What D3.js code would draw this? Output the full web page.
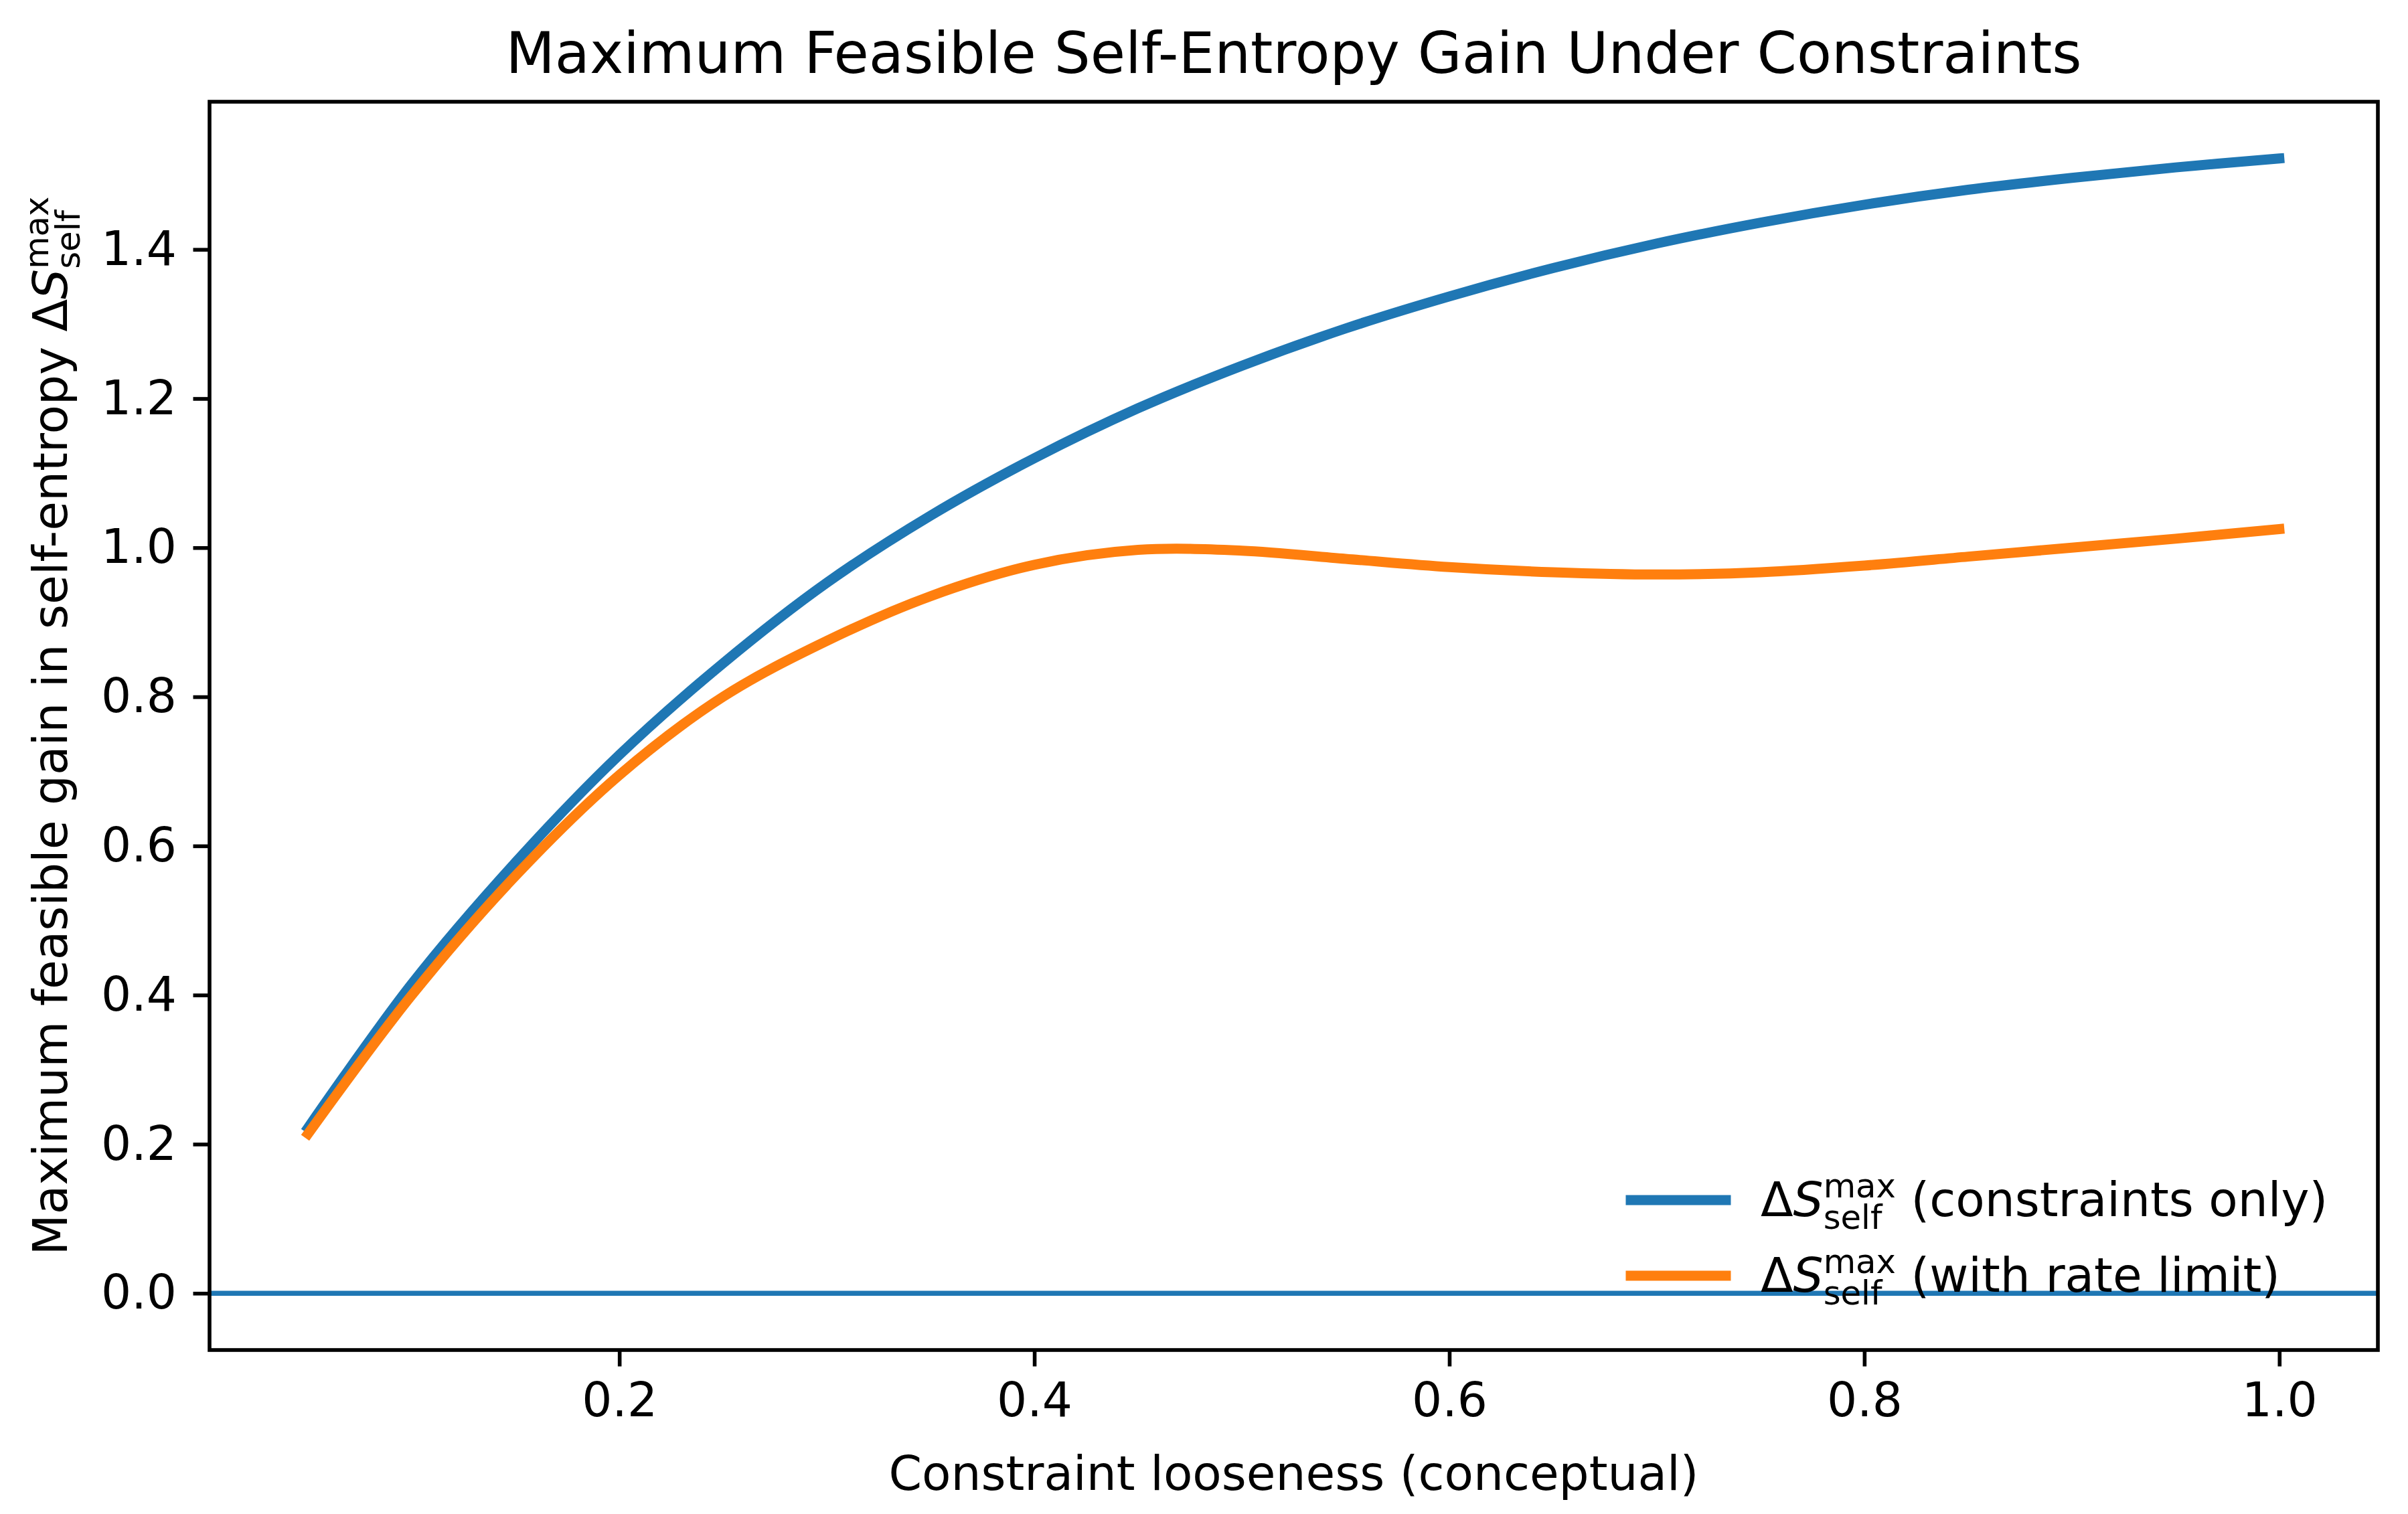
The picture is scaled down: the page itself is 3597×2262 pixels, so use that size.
<!DOCTYPE html>
<html>
<head>
<meta charset="utf-8">
<script src="https://cdn.jsdelivr.net/npm/d3@7"></script>
<style>
  body { margin: 0; background: #fff; }
  svg text { font-family: "DejaVu Sans", sans-serif; fill: #000; }
</style>
</head>
<body>
<svg id="chart" width="3597" height="2262"></svg>
<script>
// values
var looseness = [0.05, 0.10, 0.15, 0.20, 0.25, 0.30, 0.35, 0.40, 0.45, 0.50,
                 0.55, 0.60, 0.65, 0.70, 0.75, 0.80, 0.85, 0.90, 0.95, 1.00];
var constraintsOnly = [0.222, 0.415, 0.578, 0.722, 0.845, 0.953, 1.043, 1.120, 1.187, 1.244,
                       1.294, 1.337, 1.375, 1.408, 1.436, 1.460, 1.480, 1.496, 1.510, 1.522];
var withRateLimit = [0.214, 0.400, 0.560, 0.695, 0.800, 0.875, 0.935, 0.977, 0.997, 0.996,
                     0.985, 0.974, 0.967, 0.964, 0.967, 0.976, 0.988, 1.000, 1.012, 1.025];
var xTicks = [0.2, 0.4, 0.6, 0.8, 1.0];
var yTicks = [0.0, 0.2, 0.4, 0.6, 0.8, 1.0, 1.2, 1.4];
var legendLabels = [" (constraints only)", " (with rate limit)"];
var colors = ["#1f77b4", "#ff7f0e"];

var margin = {left: 313, right: 45, top: 152, bottom: 245};
var W = 3597, H = 2262;
var width = W - margin.left - margin.right;
var height = H - margin.top - margin.bottom;
var fs = 71;

// matplotlib style 5% margins
var xPad = (1.0 - 0.05) * 0.05;
var x = d3.scaleLinear().domain([0.05 - xPad, 1.0 + xPad]).range([0, width]);
var yMax = d3.max(constraintsOnly);
var yPad = yMax * 0.05;
var y = d3.scaleLinear().domain([0 - yPad, yMax + yPad]).range([height, 0]);

var svg = d3.select("#chart");
var main = svg.append("g")
    .attr("transform", "translate(" + margin.left + "," + margin.top + ")");

// zero line
main.append("line")
    .attr("x1", 0).attr("x2", width)
    .attr("y1", y(0)).attr("y2", y(0))
    .attr("stroke", colors[0])
    .attr("stroke-width", 7.5);

var line = d3.line()
    .x(function (d) { return x(d[0]); })
    .y(function (d) { return y(d[1]); })
    .curve(d3.curveCatmullRom.alpha(0.5));

[constraintsOnly, withRateLimit].forEach(function (vals, i) {
    main.append("path")
        .datum(looseness.map(function (v, k) { return [v, vals[k]]; }))
        .attr("d", line)
        .attr("fill", "none")
        .attr("stroke", colors[i])
        .attr("stroke-width", 15)
        .attr("stroke-linecap", "square")
        .attr("stroke-linejoin", "round");
});

// axes
var xAxis = d3.axisBottom(x).tickValues(xTicks).tickFormat(d3.format(".1f"))
    .tickSize(24.5).tickPadding(24.5);
var gx = main.append("g")
    .attr("transform", "translate(0," + height + ")")
    .call(xAxis);

var yAxis = d3.axisLeft(y).tickValues(yTicks).tickFormat(d3.format(".1f"))
    .tickSize(24.5).tickPadding(24.5);
var gy = main.append("g").call(yAxis);

[gx, gy].forEach(function (g) {
    g.select(".domain").remove();
    g.selectAll(".tick line").attr("stroke", "#000").attr("stroke-width", 5.6);
    g.selectAll(".tick text")
        .attr("font-family", "DejaVu Sans")
        .attr("font-size", fs)
        .attr("fill", "#000");
});

// spines
main.append("rect")
    .attr("x", 0).attr("y", 0)
    .attr("width", width).attr("height", height)
    .attr("fill", "none")
    .attr("stroke", "#000")
    .attr("stroke-width", 5.6);

// text like  Delta S_self^max
function mathText(g, before, after, size) {
    var cx = 0;
    function add(str, sz, dy, italic) {
        var t = g.append("text")
            .attr("x", cx).attr("y", dy)
            .attr("font-size", sz)
            .style("white-space", "pre")
            .text(str);
        if (italic) t.attr("font-style", "italic");
        return t.node().getComputedTextLength();
    }
    if (before) cx += add(before, size, 0);
    cx += add("\u0394", size, 0);
    cx += add("S", size, 0, true);
    var small = size * 0.7;
    var w1 = add("max", small, -0.40 * size);
    var w2 = add("self", small, 0.27 * size);
    cx += Math.max(w1, w2);
    if (after) cx += add(after, size, 0);
    return cx;
}

// title
svg.append("text")
    .attr("x", margin.left + width / 2)
    .attr("y", 109)
    .attr("text-anchor", "middle")
    .attr("font-size", 85)
    .text("Maximum Feasible Self-Entropy Gain Under Constraints");

// x label
svg.append("text")
    .attr("x", margin.left + width / 2)
    .attr("y", 2226)
    .attr("text-anchor", "middle")
    .attr("font-size", fs)
    .text("Constraint looseness (conceptual)");

// y label
var yl = svg.append("g")
    .attr("transform", "translate(100," + (margin.top + height / 2) + ") rotate(-90)");
var ylInner = yl.append("g");
var ylw = mathText(ylInner, "Maximum feasible gain in self-entropy ", null, fs);
ylInner.attr("transform", "translate(" + (-ylw / 2) + ",0)");

// legend (no frame)
var legendBase = [1817, 1930];
legendLabels.forEach(function (lab, i) {
    var row = svg.append("g");
    row.append("line")
        .attr("x1", 2436).attr("x2", 2578)
        .attr("y1", legendBase[i] - 24).attr("y2", legendBase[i] - 24)
        .attr("stroke", colors[i])
        .attr("stroke-width", 15)
        .attr("stroke-linecap", "square");
    var tg = row.append("g")
        .attr("transform", "translate(2630," + legendBase[i] + ")");
    mathText(tg, null, lab, fs);
});
</script>
</body>
</html>
